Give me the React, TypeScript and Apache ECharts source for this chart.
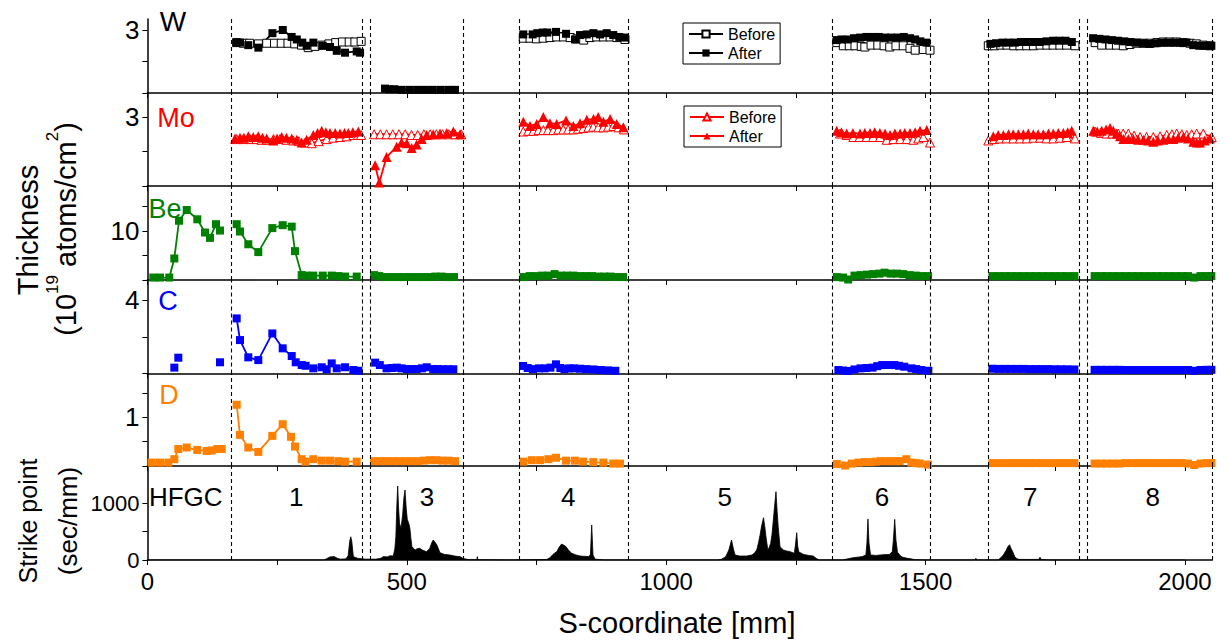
import React, { useEffect, useRef } from "react";
import * as echarts from "echarts";

type Pt = [number, number];

// ---------- axes / labels ----------
const X_MAX = 2052.8;
const xTickValues = [0, 250, 500, 750, 1000, 1250, 1500, 1750, 2000];
const xLabelValues = [0, 500, 1000, 1500, 2000];
const tileBounds = [161, 414, 430, 609, 717, 926, 1320, 1510, 1620, 1796, 1811, 2052.5];
const tileNames = ["HFGC", "1", "3", "4", "5", "6", "7", "8"];
const tileCenters = [74, 287, 539, 811, 1113, 1416, 1702, 1938];
const tileLabelLevel = 1111;

const wTicks = [2, 2.5, 3];
const wLabels = [3];
const moTicks = [2, 2.5, 3];
const moLabels = [3];
const beTicks = [0, 5, 10, 15];
const beLabels = [10];
const cTicks = [0, 2, 4];
const cLabels = [4];
const dTicks = [0, 0.5, 1, 1.5];
const dLabels = [1];
const spTicks = [0, 500, 1000];
const spLabels = [0, 1000];

// ---------- data ----------
const wBefore: Pt[][] = [
  [[172, 2.8], [185, 2.79], [197, 2.79], [214, 2.78], [230, 2.79], [245, 2.79], [258, 2.79], [271, 2.79], [284, 2.78], [297, 2.76], [310, 2.72], [323, 2.74], [337, 2.76], [350, 2.78], [363, 2.8], [376, 2.81], [389, 2.81], [400, 2.81], [412, 2.82]],
  [[724.6, 2.87], [737.6, 2.87], [750, 2.86], [763, 2.87], [776, 2.88], [789, 2.89], [802, 2.89], [815, 2.88], [828, 2.86], [841, 2.84], [853, 2.88], [866, 2.89], [879, 2.89], [892, 2.89], [905, 2.88], [920.6, 2.85]],
  [[1329, 2.8], [1341.5, 2.75], [1353, 2.75], [1364, 2.75], [1376, 2.74], [1383, 2.73], [1395, 2.76], [1408, 2.76], [1420, 2.75], [1431, 2.73], [1443, 2.75], [1457, 2.75], [1470, 2.71], [1480, 2.68], [1495.7, 2.69], [1508.6, 2.68]],
  [[1621, 2.75], [1633, 2.75], [1645, 2.76], [1657, 2.76], [1670, 2.75], [1682, 2.75], [1695, 2.75], [1708, 2.75], [1721, 2.76], [1734, 2.76], [1746, 2.76], [1759, 2.76], [1772, 2.76], [1788, 2.75]],
  [[1827, 2.8], [1839.6, 2.76], [1855.6, 2.76], [1868, 2.76], [1881.3, 2.75], [1894, 2.77], [1906, 2.79], [1920, 2.79], [1933, 2.79], [1946, 2.8], [1958, 2.81], [1971, 2.81], [1984, 2.81], [1997, 2.8], [2010, 2.79], [2022, 2.78], [2035, 2.76], [2048, 2.75]],
];
const wAfter: Pt[][] = [
  [[172, 2.8], [178.5, 2.8], [194.5, 2.76], [214, 2.72], [241, 2.95], [261, 3.0], [278, 2.89], [288, 2.85], [298.6, 2.8], [307, 2.75], [320, 2.8], [338, 2.75], [352, 2.73], [365, 2.67], [381, 2.64], [403.5, 2.66], [410, 2.64]],
  [[458, 2.07], [466, 2.06], [476, 2.06], [490, 2.05], [505, 2.05], [520, 2.05], [535, 2.05], [550, 2.05], [565, 2.05], [580, 2.05], [593, 2.05]],
  [[724.6, 2.93], [742.7, 2.93], [751.6, 2.95], [762, 2.96], [771, 2.96], [787.7, 2.97], [807, 2.94], [824.3, 2.85], [834, 2.92], [847, 2.93], [859.6, 2.95], [872.5, 2.93], [885.4, 2.95], [898, 2.92], [909.7, 2.89], [920.6, 2.88]],
  [[1328.8, 2.84], [1338, 2.85], [1350, 2.85], [1362, 2.87], [1374, 2.88], [1386, 2.89], [1398, 2.89], [1410, 2.89], [1422, 2.88], [1434, 2.88], [1446, 2.88], [1458, 2.89], [1470, 2.87], [1480, 2.85], [1490, 2.82], [1502, 2.8]],
  [[1625, 2.78], [1636, 2.79], [1648, 2.8], [1660, 2.8], [1672, 2.8], [1684, 2.81], [1696, 2.81], [1708, 2.81], [1720, 2.81], [1733, 2.82], [1746, 2.83], [1758, 2.83], [1770, 2.83], [1782, 2.81]],
  [[1823, 2.87], [1835, 2.86], [1847, 2.85], [1859, 2.84], [1871, 2.83], [1883, 2.82], [1895, 2.81], [1907, 2.8], [1919, 2.79], [1931, 2.78], [1943, 2.79], [1955, 2.8], [1967, 2.8], [1979, 2.8], [1991, 2.8], [2003, 2.8], [2016, 2.76], [2028, 2.75], [2040, 2.75], [2051, 2.75]],
];
const moBefore: Pt[][] = [
  [[172, 2.68], [185, 2.68], [197.8, 2.68], [210, 2.68], [220, 2.67], [230, 2.67], [243, 2.68], [255.6, 2.68], [268, 2.67], [281.3, 2.66], [292, 2.65], [304, 2.63], [316.7, 2.62], [330, 2.65], [345.6, 2.68], [358, 2.7], [371.3, 2.71], [384, 2.72], [397, 2.74], [406, 2.74], [412, 2.74]],
  [[437, 2.75], [449, 2.75], [461, 2.75], [473, 2.75], [485, 2.75], [497, 2.75], [509, 2.74], [521, 2.74], [533, 2.75], [545, 2.75], [557, 2.75], [569, 2.75], [581, 2.75], [593, 2.75], [605, 2.75]],
  [[724.6, 2.79], [734, 2.8], [744, 2.8], [754, 2.81], [763.2, 2.81], [772, 2.81], [782.5, 2.81], [792, 2.82], [801.7, 2.82], [811, 2.82], [821, 2.82], [830, 2.83], [840.3, 2.84], [850, 2.85], [859.6, 2.86], [869, 2.85], [879, 2.85], [888, 2.86], [898, 2.87], [908, 2.85], [918.7, 2.82]],
  [[1335, 2.76], [1348, 2.74], [1360.8, 2.71], [1373, 2.71], [1386.6, 2.71], [1399, 2.71], [1412.2, 2.71], [1425.2, 2.67], [1438, 2.68], [1451, 2.68], [1464, 2.68], [1476.5, 2.67], [1486, 2.69], [1495.7, 2.71], [1508.6, 2.63]],
  [[1621, 2.66], [1632, 2.68], [1643.6, 2.69], [1656, 2.69], [1669.2, 2.69], [1682, 2.69], [1695, 2.69], [1708, 2.7], [1720.7, 2.7], [1733, 2.69], [1746.3, 2.69], [1759, 2.7], [1772, 2.71], [1788, 2.69]],
  [[1826.7, 2.79], [1838, 2.77], [1849.3, 2.76], [1860, 2.76], [1871.6, 2.76], [1881, 2.76], [1890.9, 2.76], [1902, 2.73], [1913.5, 2.71], [1926, 2.71], [1939, 2.71], [1952, 2.72], [1965, 2.74], [1975, 2.75], [1984.2, 2.76], [1994, 2.75], [2003.5, 2.74], [2013, 2.75], [2022.7, 2.76], [2035.5, 2.76], [2051.7, 2.71]],
];
const moAfter: Pt[][] = [
  [[168.9, 2.69], [178.5, 2.7], [186, 2.7], [194.5, 2.72], [204, 2.71], [213.8, 2.72], [222, 2.7], [230, 2.69], [242.7, 2.66], [250, 2.69], [258.9, 2.71], [268, 2.7], [278.2, 2.69], [288, 2.67], [297.4, 2.63], [307, 2.67], [319.8, 2.74], [328, 2.77], [336, 2.8], [344, 2.78], [352, 2.77], [362, 2.77], [371.3, 2.76], [380, 2.77], [387.3, 2.77], [396, 2.78], [406.6, 2.79]],
  [[439, 2.3], [447, 2.05], [461, 2.42], [480.6, 2.57], [490, 2.63], [500, 2.62], [509.5, 2.55], [519, 2.6], [528.8, 2.68], [538.4, 2.74], [551, 2.75], [564, 2.76], [577, 2.77], [589.7, 2.79], [602.6, 2.75]],
  [[724.6, 2.93], [737.5, 2.87], [750.5, 2.9], [763.2, 3.0], [776, 2.91], [789, 2.9], [807, 2.95], [821, 2.87], [834, 2.91], [847, 2.96], [860, 2.97], [869, 3.0], [879, 2.93], [892, 2.97], [904.6, 2.9], [917.4, 2.85]],
  [[1328.8, 2.8], [1338, 2.78], [1348, 2.76], [1360, 2.77], [1373.7, 2.76], [1383, 2.77], [1393, 2.77], [1402, 2.78], [1412, 2.77], [1422, 2.76], [1431.6, 2.74], [1441, 2.76], [1451, 2.76], [1460, 2.77], [1470, 2.77], [1480, 2.78], [1489.4, 2.8], [1502.3, 2.81]],
  [[1630.6, 2.72], [1640, 2.74], [1650, 2.74], [1660, 2.75], [1669, 2.75], [1679, 2.75], [1688.5, 2.75], [1698, 2.76], [1707.8, 2.75], [1717, 2.75], [1727, 2.75], [1737, 2.76], [1746.3, 2.76], [1756, 2.77], [1765.6, 2.77], [1774, 2.78], [1781.8, 2.8]],
  [[1823.4, 2.8], [1831, 2.79], [1839.6, 2.8], [1848, 2.82], [1855.6, 2.84], [1862, 2.8], [1868.5, 2.76], [1875, 2.72], [1881.3, 2.68], [1891, 2.68], [1900.6, 2.68], [1910, 2.67], [1920, 2.67], [1929, 2.66], [1939, 2.64], [1948, 2.66], [1958.4, 2.67], [1968, 2.68], [1977.7, 2.68], [1987, 2.7], [1997, 2.71], [2006, 2.69], [2016.3, 2.64], [2023, 2.63], [2029, 2.63], [2038, 2.66], [2048.4, 2.69]],
];
const beData: Pt[][] = [
  [[11.4, 0.5], [24.3, 0.5], [42.2, 0.5], [51.9, 4.4], [60.9, 12.1], [75.8, 14.3], [96.2, 12.4], [111, 9.7], [120.7, 8.6], [132.2, 11.4], [140, 10.1]],
  [[172.1, 11.4], [178.5, 9.9], [194.5, 7.3], [213.8, 5.7], [240.8, 10.6], [260.8, 11.2], [278.2, 10.9], [284.5, 5.9], [297.4, 1.0], [307, 0.9], [319.8, 0.9], [338, 0.9], [355.3, 0.9], [368, 0.8], [381, 0.7], [403.5, 0.7]],
  [[437, 1.0], [447, 0.8], [459, 0.6], [471, 0.6], [483, 0.6], [495, 0.6], [507, 0.6], [519, 0.6], [531, 0.6], [543, 0.6], [555, 0.7], [567, 0.7], [579, 0.6], [591, 0.6]],
  [[725, 0.6], [737, 0.8], [749, 0.8], [761, 0.9], [773, 0.9], [785, 1.2], [797, 0.9], [809, 0.9], [821, 0.9], [833, 0.8], [845, 0.8], [857, 0.8], [869, 0.7], [881, 0.7], [893, 0.7], [905, 0.6], [917, 0.6]],
  [[1329, 0.6], [1341, 0.5], [1351, 0.1], [1363, 0.9], [1375, 1.0], [1387, 1.1], [1399, 1.2], [1411, 1.3], [1421, 1.5], [1433, 1.3], [1445, 1.3], [1457, 1.2], [1469, 1.0], [1481, 0.9], [1493, 0.8], [1505, 0.8]],
  [[1629, 0.8], [1641, 0.8], [1653, 0.8], [1665, 0.8], [1677, 0.8], [1689, 0.8], [1701, 0.8], [1713, 0.8], [1725, 0.8], [1737, 0.8], [1749, 0.8], [1761, 0.8], [1773, 0.8], [1787, 0.8]],
  [[1826, 0.8], [1838, 0.8], [1850, 0.8], [1862, 0.8], [1874, 0.8], [1886, 0.8], [1898, 0.8], [1910, 0.8], [1922, 0.8], [1934, 0.8], [1946, 0.8], [1958, 0.8], [1970, 0.8], [1982, 0.8], [1994, 0.8], [2006, 0.8], [2018, 0.5], [2030, 0.8], [2042, 0.8], [2051, 0.8]],
];
const cData: Pt[][] = [
  [[51.9, 0.32]],
  [[59.6, 0.86]],
  [[140, 0.61]],
  [[172.1, 3.0], [178.5, 1.82], [194.5, 0.88], [213.8, 0.73], [240.8, 2.18], [260.8, 1.37], [278.2, 0.95], [285.9, 0.61], [297.4, 0.46], [305, 0.42], [319.8, 0.28], [336, 0.34], [345.6, 0.23], [355.3, 0.55], [365, 0.28], [381, 0.34], [397, 0.19], [406.6, 0.15]],
  [[439, 0.59], [448, 0.46], [461, 0.28], [471, 0.3], [480.6, 0.32], [490, 0.28], [500, 0.24], [509, 0.24], [519, 0.24], [529, 0.28], [538.4, 0.34], [551, 0.24], [560, 0.24], [570, 0.23], [580, 0.23], [589.7, 0.23]],
  [[724, 0.41], [733, 0.3], [743, 0.24], [755, 0.28], [766, 0.28], [777, 0.32], [787.6, 0.5], [796, 0.3], [804, 0.24], [813, 0.28], [822, 0.28], [834, 0.26], [846, 0.24], [860, 0.22], [874, 0.19], [888, 0.17], [902, 0.15]],
  [[1332, 0.19], [1341, 0.16], [1351, 0.14], [1363, 0.22], [1374.6, 0.28], [1386, 0.3], [1398, 0.32], [1407, 0.4], [1416.7, 0.46], [1428, 0.46], [1440, 0.46], [1449, 0.42], [1459, 0.37], [1473, 0.28], [1482, 0.24], [1491.7, 0.19], [1505.5, 0.15]],
  [[1629, 0.26], [1641, 0.25], [1653, 0.25], [1665, 0.25], [1677, 0.25], [1689, 0.25], [1701, 0.24], [1713, 0.24], [1725, 0.24], [1737, 0.24], [1749, 0.23], [1761, 0.23], [1773, 0.23], [1787, 0.22]],
  [[1826, 0.2], [1838, 0.2], [1850, 0.2], [1862, 0.2], [1874, 0.2], [1886, 0.19], [1898, 0.19], [1910, 0.19], [1922, 0.19], [1934, 0.19], [1946, 0.19], [1958, 0.19], [1970, 0.19], [1982, 0.19], [1994, 0.19], [2006, 0.19], [2018, 0.15], [2030, 0.19], [2042, 0.2], [2051, 0.2]],
];
const dData: Pt[][] = [
  [[8.3, 0.07], [24.3, 0.07], [40.3, 0.07], [51.9, 0.14], [59.6, 0.35], [75.8, 0.38], [96.2, 0.33], [114.3, 0.31], [124, 0.32], [134.8, 0.35], [143.2, 0.35]],
  [[172.1, 1.26], [178.5, 0.64], [194.5, 0.38], [213.8, 0.29], [240.8, 0.62], [260.8, 0.86], [276.8, 0.6], [284.5, 0.4], [297.4, 0.14], [305, 0.09], [319.8, 0.14], [336, 0.11], [352, 0.11], [368, 0.1], [381, 0.09], [403.5, 0.09]],
  [[437, 0.1], [449, 0.1], [461, 0.1], [473, 0.1], [485, 0.1], [497, 0.1], [509, 0.1], [521, 0.1], [533, 0.11], [545, 0.12], [557, 0.12], [569, 0.11], [581, 0.11], [593, 0.1]],
  [[724.6, 0.09], [741, 0.12], [757, 0.12], [773, 0.14], [787.7, 0.17], [807, 0.11], [824, 0.11], [840, 0.09], [859.6, 0.08], [879, 0.07], [898, 0.05], [911, 0.05]],
  [[1329, 0.04], [1345, 0.01], [1358, 0.05], [1371, 0.07], [1383, 0.08], [1394, 0.08], [1404, 0.09], [1414, 0.1], [1424, 0.1], [1433, 0.1], [1442, 0.1], [1450, 0.1], [1463, 0.14], [1473, 0.07], [1481, 0.06], [1489, 0.05], [1505, 0.03]],
  [[1629, 0.06], [1641, 0.06], [1653, 0.06], [1665, 0.06], [1677, 0.06], [1689, 0.06], [1701, 0.06], [1713, 0.06], [1725, 0.06], [1737, 0.06], [1749, 0.06], [1761, 0.06], [1773, 0.06], [1787, 0.06]],
  [[1826, 0.05], [1838, 0.05], [1850, 0.05], [1862, 0.05], [1874, 0.05], [1886, 0.06], [1898, 0.06], [1910, 0.06], [1922, 0.06], [1934, 0.06], [1946, 0.06], [1958, 0.06], [1970, 0.06], [1982, 0.06], [1994, 0.06], [2006, 0.05], [2018, 0.02], [2030, 0.05], [2042, 0.06], [2051, 0.06]],
];
const strikeProfile: Pt[] = [
  [0, 0], [340, 0], [345, 20], [352, 55], [360, 60], [366, 30], [372, 15], [383, 20], [387, 80], [390, 330], [392, 410], [394, 330], [397, 60], [405, 30], [420, 15], [440, 15], [450, 30], [455, 60], [462, 55], [468, 75], [474, 70], [477, 200], [479, 420], [480.5, 880], [482.5, 1305], [484, 950], [486, 650], [489, 560], [492, 800], [494.5, 1100], [496.6, 1235], [499, 900], [501, 718], [504, 640], [506, 560], [508, 380], [510, 235], [516, 176], [520, 200], [525, 206], [531, 170], [538, 147], [544, 200], [548, 300], [551, 353], [554, 320], [558, 265], [564, 129], [572, 100], [583, 88], [595, 65], [603, 59], [608, 30], [612, 20], [620, 5], [635, 5], [636, 60], [637, 5], [700, 0], [770, 10], [776, 40], [782, 100], [789, 147], [794, 230], [798.6, 282], [803, 260], [807, 235], [812, 170], [818, 118], [826, 90], [834, 70], [850, 60], [854, 90], [856.5, 617], [859, 90], [863, 15], [880, 0], [1100, 0], [1107, 15], [1115, 60], [1121, 180], [1126, 353], [1130, 180], [1133, 88], [1142, 70], [1155, 70], [1165, 88], [1170, 120], [1174.5, 176], [1178, 300], [1181, 440], [1184, 600], [1187.7, 746], [1190, 600], [1192, 440], [1196, 176], [1199, 230], [1201.5, 294], [1204, 450], [1206.6, 705], [1209, 950], [1211.7, 1205], [1214, 850], [1216, 587], [1219.5, 235], [1226, 176], [1232, 160], [1238.8, 147], [1247, 118], [1249, 250], [1251.7, 482], [1253.5, 250], [1255.5, 147], [1264, 100], [1275, 80], [1283.7, 70], [1289, 30], [1295, 0], [1340, 0], [1350, 20], [1360, 40], [1368, 48], [1378, 60], [1385, 90], [1387, 300], [1389, 723], [1391, 300], [1394, 90], [1404, 80], [1414, 90], [1422, 95], [1430, 95], [1436, 150], [1438, 350], [1440.6, 717], [1443, 350], [1446, 137], [1451, 80], [1456, 48], [1465, 30], [1472, 20], [1480, 5], [1500, 0], [1595, 0], [1597, 30], [1599, 0], [1640, 0], [1646, 48], [1650, 90], [1655, 167], [1659, 240], [1662, 269], [1665, 200], [1668.6, 137], [1672, 60], [1675, 30], [1680, 10], [1718, 10], [1720.7, 48], [1723, 10], [1740, 0], [2000, 0],
];

// ---------- layout ----------
const FONT = "Liberation Sans, Arial, Helvetica, sans-serif";
const GRID_LEFT = 147.4;
const GRID_RIGHT = 1229 - 1212.3;
const panels = [
  { top: 19, height: 74, min: 2, max: 3.175, ticks: wTicks, labels: wLabels, fs: 26 },
  { top: 93, height: 93, min: 2, max: 3.348, ticks: moTicks, labels: moLabels, fs: 26 },
  { top: 186, height: 94, min: 0, max: 19.2, ticks: beTicks, labels: beLabels, fs: 26 },
  { top: 280, height: 93.5, min: 0, max: 5.09, ticks: cTicks, labels: cLabels, fs: 26 },
  { top: 373.5, height: 92.5, min: 0, max: 1.903, ticks: dTicks, labels: dLabels, fs: 26 },
  { top: 466, height: 94, min: 0, max: 1658, ticks: spTicks, labels: spLabels, fs: 22 },
];

const joinSegments = (segs: Pt[][]) => {
  const out: (number | string)[][] = [];
  segs.forEach((seg, i) => {
    if (i > 0) out.push([seg[0][0] - 1, "-"]);
    seg.forEach((p) => out.push([p[0], p[1]]));
  });
  return out;
};

const dashed = {
  silent: true,
  symbol: ["none", "none"],
  label: { show: false },
  lineStyle: { type: [4, 3], color: "#000", width: 1.1 },
  data: tileBounds.map((v) => ({ xAxis: v })),
};

const plain = (v: number) => String(v);

export default function App() {
  const ref = useRef<HTMLDivElement>(null);
  useEffect(() => {
    if (!ref.current) return;
    const chart = echarts.init(ref.current, undefined, { renderer: "svg" });
    const axisLine = { show: true, onZero: false, lineStyle: { color: "#000", width: 1.5 } };
    const legendBase = {
      orient: "vertical",
      borderColor: "#000", borderWidth: 1, borderRadius: 0,
      padding: [3, 5, 3, 5], itemGap: 3, itemWidth: 34, itemHeight: 9,
      textStyle: { fontSize: 16, color: "#000", fontFamily: FONT },
      formatter: (n: string) => n.split(" ")[1],
    };
    const option: any = {
      animation: false,
      textStyle: { fontFamily: FONT },
      grid: panels.map((p) => ({ left: GRID_LEFT, right: GRID_RIGHT, top: p.top, height: p.height })),
      xAxis: panels.map((p, i) => ({
        type: "value",
        gridIndex: i,
        min: 0,
        max: X_MAX,
        interval: 250,
        axisLine,
        axisTick: { show: true, inside: false, length: 5, customValues: xTickValues, lineStyle: { color: "#000", width: 1 } },
        axisLabel: { show: i === panels.length - 1, customValues: xLabelValues, formatter: plain, fontSize: 24, color: "#000", fontFamily: FONT, margin: 9 },
        splitLine: { show: false },
      })),
      yAxis: panels.map((p, i) => ({
        type: "value",
        gridIndex: i,
        min: p.min,
        max: p.max,
        axisLine,
        axisTick: { show: true, inside: false, length: 5, customValues: p.ticks, lineStyle: { color: "#000", width: 1 } },
        axisLabel: { show: true, customValues: p.labels, formatter: plain, fontSize: p.fs, color: "#000", fontFamily: FONT, margin: 8 },
        splitLine: { show: false },
      })),
      legend: [
        { ...legendBase, data: ["W Before", "W After"], left: 683, top: 23 },
        { ...legendBase, data: ["Mo Before", "Mo After"], left: 684, top: 106 },
      ],
      series: [
        {
          name: "W Before", type: "line", xAxisIndex: 0, yAxisIndex: 0,
          data: joinSegments(wBefore), symbol: "rect", symbolSize: 8,
          itemStyle: { color: "#fff", borderColor: "#000", borderWidth: 1 },
          lineStyle: { color: "#000", width: 1.8 },
        },
        {
          name: "W After", type: "line", xAxisIndex: 0, yAxisIndex: 0,
          data: joinSegments(wAfter), symbol: "rect", symbolSize: 8,
          itemStyle: { color: "#000" }, lineStyle: { color: "#000", width: 1.8 },
          markLine: dashed,
        },
        {
          name: "Mo Before", type: "line", xAxisIndex: 1, yAxisIndex: 1,
          data: joinSegments(moBefore), symbol: "triangle", symbolSize: 9,
          itemStyle: { color: "#fff", borderColor: "#ff0000", borderWidth: 1 },
          lineStyle: { color: "#ff0000", width: 1.8 },
        },
        {
          name: "Mo After", type: "line", xAxisIndex: 1, yAxisIndex: 1,
          data: joinSegments(moAfter), symbol: "triangle", symbolSize: 10,
          itemStyle: { color: "#ff0000" }, lineStyle: { color: "#ff0000", width: 1.8 },
          markLine: dashed,
        },
        {
          name: "Be", type: "line", xAxisIndex: 2, yAxisIndex: 2,
          data: joinSegments(beData), symbol: "rect", symbolSize: 8,
          itemStyle: { color: "#008000" }, lineStyle: { color: "#008000", width: 1.8 },
          markLine: dashed,
        },
        {
          name: "C", type: "line", xAxisIndex: 3, yAxisIndex: 3,
          data: joinSegments(cData), symbol: "rect", symbolSize: 8,
          itemStyle: { color: "#0000ff" }, lineStyle: { color: "#0000ff", width: 1.8 },
          markLine: dashed,
        },
        {
          name: "D", type: "line", xAxisIndex: 4, yAxisIndex: 4,
          data: joinSegments(dData), symbol: "rect", symbolSize: 8,
          itemStyle: { color: "#ff8000" }, lineStyle: { color: "#ff8000", width: 1.8 },
          markLine: dashed,
        },
        {
          name: "Strike point", type: "line", xAxisIndex: 5, yAxisIndex: 5,
          data: strikeProfile, symbol: "none",
          lineStyle: { color: "#000", width: 0.8 },
          areaStyle: { color: "#000", opacity: 1 },
          markLine: dashed,
        },
        {
          name: "tiles", type: "scatter", xAxisIndex: 5, yAxisIndex: 5,
          symbolSize: 0, silent: true,
          itemStyle: { opacity: 1, color: "#000" },
          data: tileCenters.map((x, i) => ({ value: [x, tileLabelLevel], name: tileNames[i] })),
          label: { show: true, position: "inside", formatter: "{b}", fontSize: 26, color: "#000", opacity: 1, textBorderWidth: 0, fontFamily: FONT },
        },
      ],
      graphic: [
        { type: "text", x: 173, y: 21, style: { text: "W", fill: "#000", fontSize: 28, fontFamily: FONT, align: "center", verticalAlign: "middle" } },
        { type: "text", x: 176, y: 118, style: { text: "Mo", fill: "#ff0000", fontSize: 27, fontFamily: FONT, align: "center", verticalAlign: "middle" } },
        { type: "text", x: 165, y: 209, style: { text: "Be", fill: "#008000", fontSize: 27, fontFamily: FONT, align: "center", verticalAlign: "middle" } },
        { type: "text", x: 168, y: 301, style: { text: "C", fill: "#0000ff", fontSize: 27, fontFamily: FONT, align: "center", verticalAlign: "middle" } },
        { type: "text", x: 169, y: 395, style: { text: "D", fill: "#ff8000", fontSize: 27, fontFamily: FONT, align: "center", verticalAlign: "middle" } },
        { type: "text", x: 28, y: 230, rotation: Math.PI / 2, style: { text: "Thickness", fill: "#000", fontSize: 29, fontFamily: FONT, align: "center", verticalAlign: "middle" } },
        {
          type: "text", x: 66, y: 229, rotation: Math.PI / 2,
          style: {
            text: "{n|(10}{s|19}{n| atoms/cm}{s|2}{n|)}",
            align: "center", verticalAlign: "middle", fill: "#000",
            rich: {
              n: { fontSize: 29, fontFamily: FONT, lineHeight: 44, verticalAlign: "middle", fill: "#000" },
              s: { fontSize: 17, fontFamily: FONT, lineHeight: 18, verticalAlign: "top", fill: "#000" },
            },
          },
        },
        { type: "text", x: 28, y: 521, rotation: Math.PI / 2, style: { text: "Strike point", fill: "#000", fontSize: 25, fontFamily: FONT, align: "center", verticalAlign: "middle" } },
        { type: "text", x: 68, y: 521, rotation: Math.PI / 2, style: { text: "(sec/mm)", fill: "#000", fontSize: 26, fontFamily: FONT, align: "center", verticalAlign: "middle" } },
        { type: "text", x: 677, y: 623, style: { text: "S-coordinate [mm]", fill: "#000", fontSize: 29, fontFamily: FONT, align: "center", verticalAlign: "middle" } },
      ],
    };
    chart.setOption(option);
    return () => chart.dispose();
  }, []);
  return <div ref={ref} style={{ position: "absolute", left: 0, top: 0, width: 1229, height: 644, background: "#fff" }} />;
}
